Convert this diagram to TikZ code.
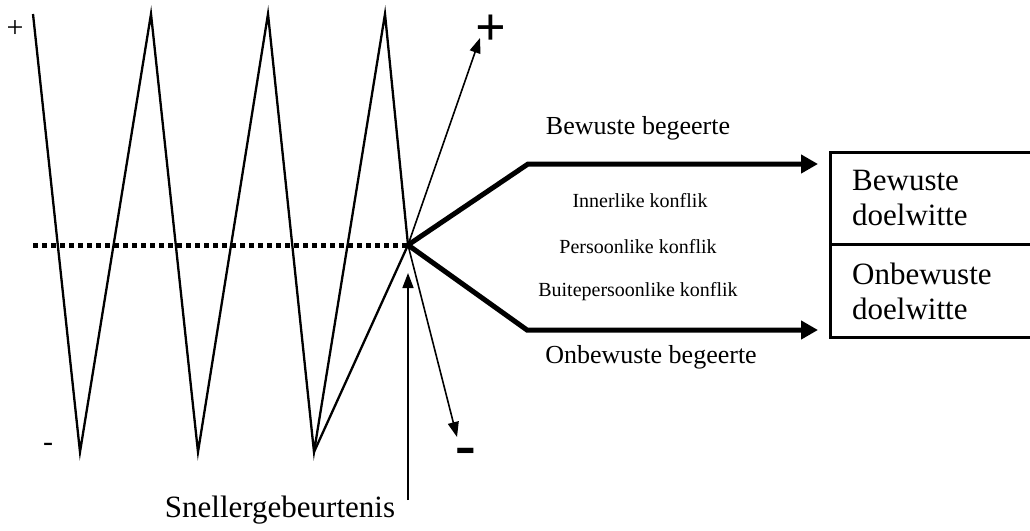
\documentclass[tikz,border=0pt]{standalone}
\usepackage{fontspec}
\setmainfont{Liberation Serif}
\usetikzlibrary{arrows.meta, calc}
\tikzset{
  wave/.style={line width=2.3pt, line join=miter},
  base line/.style={line width=5pt, dash pattern=on 5pt off 4pt},
  swing arrow/.style={-{Triangle[length=15pt, width=11pt]}, line width=1.6pt},
  drive arrow/.style={-{Triangle[length=17pt, width=18pt]}, line width=5pt, line join=miter},
  frame/.style={line width=3pt},
  small sign/.style={font=\fontsize{30}{34}\selectfont, inner sep=0pt},
  big sign/.style={font=\fontsize{54}{58}\selectfont\bfseries, inner sep=0pt},
  conflict/.style={font=\fontsize{20}{24}\selectfont, inner sep=0pt},
  desire/.style={font=\fontsize{26}{30}\selectfont, inner sep=0pt},
  goal/.style={minimum width=200pt, inner xsep=22pt, text width=156pt,
    align=left, font=\fontsize{31}{35}\selectfont, anchor=north west}
}
\begin{document}
\begin{tikzpicture}[x=1pt, y=-1pt]
  \useasboundingbox (0,0) rectangle (1030,530);

  % Swing points
  \coordinate (pivot) at (408,245);
  \coordinate (t1) at (33,14);
  \coordinate (b1) at (80,452);
  \coordinate (t2) at (151,14);
  \coordinate (b2) at (198,452);
  \coordinate (t3) at (268,14);
  \coordinate (b3) at (314,452);
  \coordinate (t4) at (385,14);

  % Baseline
  \draw[base line] (33,245) -- (pivot);

  % Swings
  \draw[wave] (t1) -- (b1) -- (t2) -- (b2) -- (t3) -- (b3) -- (t4) -- (pivot);
  \draw[wave] (b3) -- (pivot);
  \node[small sign] (plus) at (15,29) {+};
  \node[small sign] (minus) at (48,447) {-};

  % Outcome arrows
  \node[big sign] (bigplus) at (491,30) {+};
  \node[font=\fontsize{62}{66}\selectfont\bfseries, inner sep=0pt] (bigminus) at (466,457) {-};
  \draw[swing arrow] (pivot) -- (480,38);
  \draw[swing arrow] (pivot) -- (457,437);

  % Trigger event
  \node[font=\fontsize{31}{35}\selectfont, inner sep=0pt] (trigger) at (280,510) {Snellergebeurtenis};
  \coordinate (foot) at (408,500);
  \draw[swing arrow] (foot) -- (pivot) [shorten >=28pt];

  % Goals
  \node[goal, minimum height=92pt] (goalA) at (830,152) {Bewuste\\doelwitte};
  \node[goal, minimum height=93pt] (goalB) at (goalA.south west) {Onbewuste\\doelwitte};
  \draw[frame] (goalA.north east) -- (goalA.north west) -- (goalB.south west) -- (goalB.south east);
  \draw[frame] (goalA.south west) -- (goalA.south east);

  % Desires
  \coordinate (upbend) at (528,164);
  \coordinate (lowbend) at (527,330);
  \draw[drive arrow, shorten >=12pt] (pivot) -- (upbend) -- (upbend -| goalA.west);
  \draw[drive arrow, shorten >=12pt] (pivot) -- (lowbend) -- (lowbend -| goalB.west);
  \node[desire] (aware) at (638,128) {Bewuste begeerte};
  \node[desire] (unaware) at (651,357) {Onbewuste begeerte};

  % Conflicts
  \node[conflict] (inner) at (640,201) {Innerlike konflik};
  \node[conflict] (personal) at (638,247) {Persoonlike konflik};
  \node[conflict] (outer) at (638,292) {Buitepersoonlike konflik};
\end{tikzpicture}
\end{document}
